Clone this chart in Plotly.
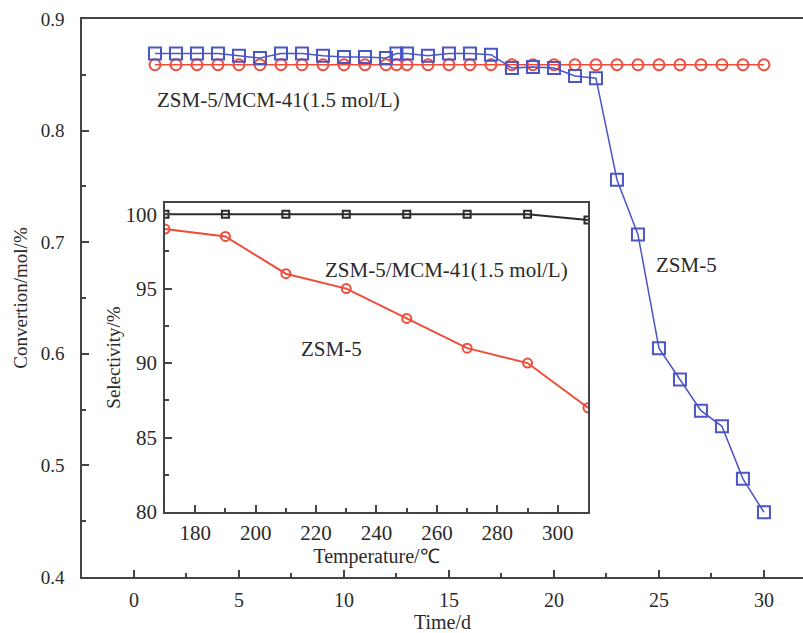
import plotly.graph_objects as go

# ---------------- data ----------------
days = [1, 2, 3, 4, 5, 6, 7, 8, 9, 10, 11, 12, 12.5, 13, 14, 15, 16, 17, 18, 19,
        20, 21, 22, 23, 24, 25, 26, 27, 28, 29, 30]
zsm5_conv = [0.869, 0.869, 0.869, 0.869, 0.867, 0.865, 0.869, 0.869, 0.867, 0.866,
             0.866, 0.865, 0.869, 0.869, 0.867, 0.869, 0.869, 0.868, 0.856, 0.857,
             0.856, 0.849, 0.847, 0.756, 0.707, 0.605, 0.577, 0.549, 0.535, 0.488, 0.458]
comp_conv = [0.859] * len(days)

temps = [170, 190, 210, 230, 250, 270, 290, 310]
comp_sel = [100.0, 100.0, 100.0, 100.0, 100.0, 100.0, 100.0, 99.6]
zsm5_sel = [99.0, 98.5, 96.0, 95.0, 93.0, 91.0, 90.0, 87.0]

label_comp = "ZSM-5/MCM-41(1.5 mol/L)"
label_zsm5 = "ZSM-5"

BLUE = "#4a55c6"
RED = "#ef4d3a"
INK = "#2a2a2a"
FONT = "Liberation Serif"

fig = go.Figure()

fig.add_trace(go.Scatter(
    x=days, y=comp_conv, mode="lines+markers",
    line=dict(color=RED, width=1.5),
    marker=dict(symbol="circle-open", size=11, color=RED, line=dict(width=2, color=RED)),
    xaxis="x", yaxis="y", showlegend=False))
fig.add_trace(go.Scatter(
    x=days, y=zsm5_conv, mode="lines+markers",
    line=dict(color=BLUE, width=1.5),
    marker=dict(symbol="square-open", size=12, color=BLUE, line=dict(width=2, color=BLUE)),
    xaxis="x", yaxis="y", showlegend=False))

fig.add_trace(go.Scatter(
    x=temps, y=comp_sel, mode="lines+markers",
    line=dict(color=INK, width=2),
    marker=dict(symbol="square-open", size=7, color=INK, line=dict(width=2, color=INK)),
    xaxis="x2", yaxis="y2", showlegend=False))
fig.add_trace(go.Scatter(
    x=temps, y=zsm5_sel, mode="lines+markers",
    line=dict(color=RED, width=2),
    marker=dict(symbol="circle-open", size=9, color=RED, line=dict(width=2, color=RED)),
    xaxis="x2", yaxis="y2", showlegend=False))

axis_common = dict(showgrid=False, zeroline=False, showline=True, linecolor="#444",
                   linewidth=1.5, ticks="inside", tickcolor="#444", tickwidth=1.5)

def minor(vals):
    return dict(ticks="inside", tickvals=vals, ticklen=4, tickcolor="#444", tickwidth=1.5)

fig.update_layout(
    width=803, height=633,
    margin=dict(l=82, r=0, t=19, b=56),
    paper_bgcolor="white", plot_bgcolor="white",
    font=dict(family=FONT, color=INK),
    xaxis=dict(**axis_common, range=[-2.476, 31.86], tickvals=[0, 5, 10, 15, 20, 25, 30],
               tickfont=dict(family=FONT, size=20, color=INK),
               ticklen=7, mirror=True, ticklabelstandoff=4,
               minor=minor([2.5, 7.5, 12.5, 17.5, 22.5, 27.5]),
               title=dict(text="Time/d", font=dict(family=FONT, size=20, color=INK), standoff=4)),
    yaxis=dict(**axis_common, range=[0.4, 0.9], tickvals=[0.4, 0.5, 0.6, 0.7, 0.8, 0.9],
               tickfont=dict(family=FONT, size=19, color=INK),
               tickformat=".1f", ticklen=7, mirror=False, ticklabelstandoff=12,
               minor=minor([0.45, 0.55, 0.65, 0.75, 0.85]),
               title=dict(text="Convertion/mol/%", font=dict(family=FONT, size=19, color=INK), standoff=8)),
    xaxis2=dict(**axis_common, domain=[0.1151, 0.7018], anchor="y2", range=[170, 310],
                tickvals=[180, 200, 220, 240, 260, 280, 300], ticklen=7, mirror=True,
                tickfont=dict(family=FONT, size=21, color=INK),
                ticklabelstandoff=1,
                minor=minor([190, 210, 230, 250, 270, 290]),
                title=dict(text="Temperature/℃", font=dict(family=FONT, size=20, color=INK), standoff=2)),
    yaxis2=dict(**axis_common, domain=[0.1165, 0.6703], anchor="x2", range=[80, 100.75],
                tickvals=[80, 85, 90, 95, 100], ticklen=7, mirror=True, ticklabelstandoff=2,
                tickfont=dict(family=FONT, size=21, color=INK),
                minor=minor([82.5, 87.5, 92.5, 97.5]),
                title=dict(text="Selectivity/%", font=dict(family=FONT, size=19, color=INK), standoff=0)),
    annotations=[
        dict(text=label_comp, x=6.86, y=0.8274, xref="x", yref="y", showarrow=False,
             font=dict(family=FONT, size=21, color=INK)),
        dict(text=label_zsm5, x=26.3, y=0.6796, xref="x", yref="y", showarrow=False,
             font=dict(family=FONT, size=21, color=INK)),
        dict(text=label_comp, x=263.3, y=96.24, xref="x2", yref="y2", showarrow=False,
             font=dict(family=FONT, size=21, color=INK)),
        dict(text=label_zsm5, x=225, y=90.94, xref="x2", yref="y2", showarrow=False,
             font=dict(family=FONT, size=21, color=INK)),
    ],
)

fig.add_shape(type="rect", xref="paper", yref="paper", x0=0.1151, x1=0.7018, y0=0.1165, y1=0.6703,
              fillcolor="white", line=dict(width=0), layer="below")

fig.write_html("out.html", config={"displayModeBar": False},
               post_script="document.body.style.margin='0';document.body.style.overflow='hidden';")
